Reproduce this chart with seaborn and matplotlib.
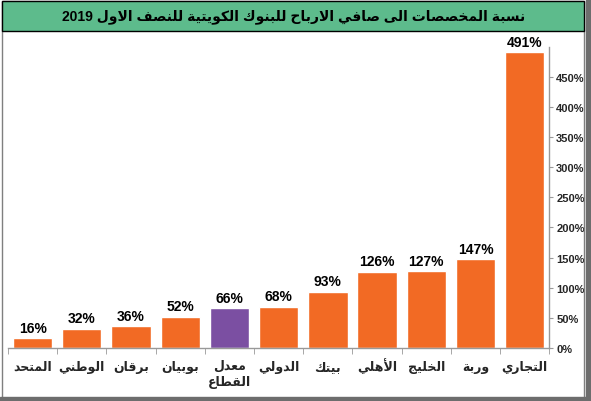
import seaborn as sns
import matplotlib.pyplot as plt
import matplotlib.patches as mpatches
from matplotlib.ticker import FuncFormatter
import pandas as pd

# DATA (left to right as in the chart)
banks = ['المتحد', 'الوطني', 'برقان', 'بوبيان', 'معدل\nالقطاع', 'الدولي',
         'بيتك', 'الأهلي', 'الخليج', 'وربة', 'التجاري']
ratios = [16, 32, 36, 52, 66, 68, 93, 126, 127, 147, 491]
title = 'نسبة المخصصات الى صافي الارباح للبنوك الكويتية للنصف الاول 2019'

ORANGE = '#F26A24'
PURPLE = '#7B4FA2'
GREEN = '#5DBB8C'

# minimal arabic shaping: matplotlib does not join letters or do right-to-left
FORMS = {
    'ا': ('\uFE8D', '\uFE8E', None, None),
    'أ': ('\uFE83', '\uFE84', None, None),
    'ب': ('\uFE8F', '\uFE90', '\uFE91', '\uFE92'),
    'ة': ('\uFE93', '\uFE94', None, None),
    'ت': ('\uFE95', '\uFE96', '\uFE97', '\uFE98'),
    'ج': ('\uFE9D', '\uFE9E', '\uFE9F', '\uFEA0'),
    'ح': ('\uFEA1', '\uFEA2', '\uFEA3', '\uFEA4'),
    'خ': ('\uFEA5', '\uFEA6', '\uFEA7', '\uFEA8'),
    'د': ('\uFEA9', '\uFEAA', None, None),
    'ر': ('\uFEAD', '\uFEAE', None, None),
    'س': ('\uFEB1', '\uFEB2', '\uFEB3', '\uFEB4'),
    'ص': ('\uFEB9', '\uFEBA', '\uFEBB', '\uFEBC'),
    'ط': ('\uFEC1', '\uFEC2', '\uFEC3', '\uFEC4'),
    'ع': ('\uFEC9', '\uFECA', '\uFECB', '\uFECC'),
    'ف': ('\uFED1', '\uFED2', '\uFED3', '\uFED4'),
    'ق': ('\uFED5', '\uFED6', '\uFED7', '\uFED8'),
    'ك': ('\uFED9', '\uFEDA', '\uFEDB', '\uFEDC'),
    'ل': ('\uFEDD', '\uFEDE', '\uFEDF', '\uFEE0'),
    'م': ('\uFEE1', '\uFEE2', '\uFEE3', '\uFEE4'),
    'ن': ('\uFEE5', '\uFEE6', '\uFEE7', '\uFEE8'),
    'ه': ('\uFEE9', '\uFEEA', '\uFEEB', '\uFEEC'),
    'و': ('\uFEED', '\uFEEE', None, None),
    'ى': ('\uFEEF', '\uFEF0', None, None),
    'ي': ('\uFEF1', '\uFEF2', '\uFEF3', '\uFEF4'),
}
LAM_ALEF = {'ا': ('\uFEFB', '\uFEFC', None, None),
            'أ': ('\uFEF7', '\uFEF8', None, None)}


def shape_word(word):
    units = []
    i = 0
    while i < len(word):
        c = word[i]
        if c == 'ل' and i + 1 < len(word) and word[i + 1] in LAM_ALEF:
            units.append(LAM_ALEF[word[i + 1]])
            i += 2
        else:
            units.append(FORMS.get(c, c))
            i += 1
    if all(isinstance(u, str) for u in units):
        return word
    out = []
    for j, u in enumerate(units):
        if isinstance(u, str):
            out.append(u)
            continue
        prev = j > 0 and isinstance(units[j - 1], tuple) and units[j - 1][2] is not None
        nxt = j < len(units) - 1 and isinstance(units[j + 1], tuple) and u[2] is not None
        if prev and nxt:
            out.append(u[3])
        elif prev:
            out.append(u[1])
        elif nxt:
            out.append(u[2])
        else:
            out.append(u[0])
    return ''.join(reversed(out))


def ar(text):
    lines = []
    for line in text.split('\n'):
        words = [shape_word(w) for w in line.split(' ')]
        lines.append(' '.join(reversed(words)))
    return '\n'.join(lines)


df = pd.DataFrame({'bank': banks, 'ratio': ratios})
colors = [PURPLE if b.startswith('معدل') else ORANGE for b in banks]

sns.set_style('white')
plt.rcParams['font.family'] = ['Liberation Sans', 'DejaVu Sans Condensed', 'DejaVu Sans']
plt.rcParams['font.weight'] = 'bold'

fig = plt.figure(figsize=(5.91, 4.02), dpi=100)
ax = fig.add_axes([0.0135, 0.132, 0.916, 0.749])

sns.barplot(data=df, x='bank', y='ratio', hue='bank', palette=colors,
            legend=False, width=0.8, saturation=1, ax=ax)

for p, v in zip(ax.patches, ratios):
    ax.text(p.get_x() + p.get_width() / 2, v + 6, f'{v}%', ha='center', va='bottom',
            fontsize=10, fontweight='bold', color='black')

ax.set_ylim(0, 500)
ax.set_xlim(-0.5, len(banks) - 0.5)
ax.set_yticks(range(0, 451, 50))
ax.yaxis.set_major_formatter(FuncFormatter(lambda v, _: f'{v:.0f}%'))
ax.yaxis.tick_right()
ax.tick_params(axis='y', which='major', right=True, length=3, color='#999999',
               labelsize=8, pad=2)

# category names drawn on the baseline so the hamza does not push a label down
ax.set_xticks(range(len(banks)))
ax.set_xticklabels([])
ax.tick_params(axis='x', which='major', length=0)
for i, b in enumerate(banks):
    y = -0.122 if '\n' in b else -0.072
    ax.text(i, y, ar(b), transform=ax.get_xaxis_transform(), ha='center', va='baseline',
            fontsize=9, fontweight='bold', linespacing=1.25)
ax.set_xticks([i - 0.5 for i in range(len(banks) + 1)], minor=True)
ax.tick_params(axis='x', which='minor', bottom=True, length=4, color='#999999')
ax.set_xlabel('')
ax.set_ylabel('')
for s in ['top', 'left']:
    ax.spines[s].set_visible(False)
for s in ['right', 'bottom']:
    ax.spines[s].set_color('#999999')
    ax.spines[s].set_linewidth(1)

# figure frame and green title band
fig.patches.append(mpatches.Rectangle((0.003, 0.005), 0.986, 0.99, transform=fig.transFigure,
                                      fill=False, edgecolor='#7f7f7f', linewidth=1))
fig.patches.append(mpatches.Rectangle((0.992, 0.0), 0.008, 1.0, transform=fig.transFigure,
                                      color='#6d6d6d'))
fig.patches.append(mpatches.Rectangle((0.0, 0.0), 1.0, 0.01, transform=fig.transFigure,
                                      color='#6d6d6d'))
fig.patches.append(mpatches.Rectangle((0.004, 0.921), 0.985, 0.075, transform=fig.transFigure,
                                      facecolor=GREEN, edgecolor='black', linewidth=1))
fig.text(0.497, 0.958, ar(title), ha='center', va='center', fontsize=10,
         fontweight='bold', color='black')

fig.savefig('out.png', dpi=100)
